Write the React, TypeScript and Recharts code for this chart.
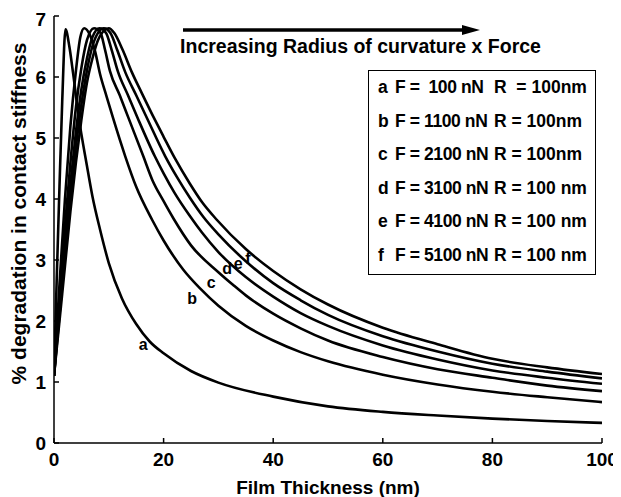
import { Line, LineChart, ReferenceDot, XAxis, YAxis } from 'recharts';

const xTicks = [0, 20, 40, 60, 80, 100];
const yTicks = [0, 1, 2, 3, 4, 5, 6, 7];

// [film thickness nm, % degradation]
const curveA = [
  [0, 1.1], [0.5, 2.7], [1, 4.2], [1.5, 5.6], [2.1, 6.78], [2.8, 6.5], [3.5, 6.05], [4.5, 5.35],
  [6, 4.55], [7, 4.05], [8.4, 3.5], [10, 2.95], [12.4, 2.37], [15, 1.95], [17.5, 1.66], [20, 1.47],
  [25, 1.18], [30, 0.99], [40, 0.76], [50, 0.6], [60, 0.51], [70, 0.45], [80, 0.4], [90, 0.36], [100, 0.33],
];
const curveB = [
  [0, 1.1], [1, 2.6], [2, 4.0], [3, 5.2], [4, 6.1], [4.8, 6.65], [5.5, 6.8], [6.5, 6.7], [7.5, 6.42],
  [8.4, 6.05], [9.6, 5.68], [10.8, 5.32], [13, 4.7], [15, 4.2], [17.9, 3.66], [20, 3.32], [23.6, 2.84],
  [26.7, 2.53], [30, 2.25], [35, 1.92], [40, 1.68], [45, 1.49], [50, 1.34], [60, 1.12], [70, 0.96],
  [80, 0.84], [90, 0.75], [100, 0.67],
];
const curveC = [
  [0, 1.1], [1, 2.35], [2, 3.55], [3, 4.6], [4, 5.5], [5, 6.15], [6, 6.6], [7.3, 6.8], [8.5, 6.72],
  [9.3, 6.45], [10.2, 6.1], [12, 5.7], [13.5, 5.35], [16.3, 4.7], [18, 4.3], [19.9, 3.98], [21.8, 3.68],
  [25, 3.24], [30, 2.8], [32.7, 2.59], [35, 2.42], [40, 2.12], [45, 1.88], [50, 1.68], [60, 1.41],
  [70, 1.21], [80, 1.07], [90, 0.94], [100, 0.85],
];
const curveD = [
  [0, 1.1], [1, 2.2], [2, 3.3], [3, 4.25], [4, 5.1], [5, 5.8], [6, 6.3], [7, 6.65], [8.3, 6.8],
  [9.5, 6.72], [10.5, 6.45], [11.7, 6.08], [13.5, 5.7], [15.3, 5.32], [18.4, 4.7], [20, 4.42], [22, 4.1],
  [24.8, 3.72], [27, 3.45], [30, 3.13], [35, 2.72], [40, 2.4], [45, 2.13], [50, 1.92], [60, 1.6],
  [70, 1.37], [80, 1.19], [90, 1.07], [100, 0.97],
];
const curveE = [
  [0, 1.1], [1, 2.1], [2, 3.1], [3, 4.0], [4, 4.85], [5, 5.55], [6, 6.1], [7, 6.5], [8, 6.72], [9.1, 6.8],
  [10.3, 6.72], [11.5, 6.45], [13, 6.08], [15, 5.7], [17, 5.32], [20.3, 4.7], [22.5, 4.35], [24.8, 4.02],
  [27.3, 3.7], [30, 3.42], [35, 2.98], [40, 2.62], [45, 2.34], [50, 2.1], [60, 1.75], [70, 1.5],
  [80, 1.3], [90, 1.17], [100, 1.06],
];
const curveF = [
  [0, 1.1], [1, 2.0], [2, 2.9], [3, 3.8], [4, 4.6], [5, 5.3], [6, 5.9], [7, 6.3], [8, 6.6], [9, 6.75], [10, 6.8],
  [11, 6.72], [12.5, 6.45], [14.2, 6.08], [16, 5.74], [18.4, 5.3], [20, 5.02], [22.1, 4.66], [24.8, 4.25],
  [27, 3.95], [29.7, 3.66], [35, 3.18], [40, 2.82], [45, 2.52], [50, 2.27], [60, 1.89], [70, 1.62],
  [80, 1.38], [90, 1.24], [100, 1.13],
];

const curves = [curveA, curveB, curveC, curveD, curveE, curveF];
const letters = ['a', 'b', 'c', 'd', 'e', 'f'];
const forces = ['F =  100 nN', 'F = 1100 nN', 'F = 2100 nN', 'F = 3100 nN', 'F = 4100 nN', 'F = 5100 nN'];
const radii = ['R  = 100nm', 'R = 100nm', 'R = 100nm', 'R = 100 nm', 'R = 100 nm', 'R = 100 nm'];
// where the a..f tags sit on the plot
const tagX = [16.3, 25.2, 28.7, 31.6, 33.6, 35.4];
const tagY = [1.61, 2.38, 2.64, 2.87, 2.95, 3.03];

const font = '"Liberation Sans", Arial, sans-serif';
const tickStyle = { fontSize: 19, fontWeight: 700, fill: '#000', fontFamily: font };

const YTitle = ({ viewBox }: any) => {
  const cx = viewBox.x + 10;
  const cy = viewBox.y + viewBox.height / 2 - 16;
  return (
    <text x={cx} y={cy} transform={`rotate(-90, ${cx}, ${cy})`} textAnchor="middle" dominantBaseline="central"
      style={{ fontSize: 21, fontWeight: 700, fontFamily: font }} fill="#000">
      % degradation in contact stiffness
    </text>
  );
};

const XTitle = ({ viewBox }: any) => {
  const cx = viewBox.x + viewBox.width / 2;
  const cy = viewBox.y + 44;
  return (
    <text x={cx} y={cy} textAnchor="middle" dominantBaseline="central"
      style={{ fontSize: 19, fontWeight: 700, fontFamily: font }} fill="#000">
      Film Thickness (nm)
    </text>
  );
};

export default function App() {
  return (
    <div style={{ position: 'relative', width: 613, height: 489, fontFamily: font }}>
      <LineChart width={613} height={489} margin={{ top: 8, right: 19, bottom: 0, left: 0 }}>
        <XAxis dataKey="x" type="number" domain={[0, 100]} ticks={xTicks} allowDataOverflow height={54}
          tick={tickStyle} tickSize={-5} tickMargin={15} stroke="#000" strokeWidth={1.5}
          label={<XTitle />} />
        <XAxis xAxisId="top" orientation="top" type="number" domain={[0, 100]} ticks={xTicks} allowDataOverflow
          height={0} tick={false} tickSize={-5} stroke="#000" strokeWidth={1.5} />
        <YAxis type="number" domain={[0, 7]} ticks={yTicks} allowDataOverflow width={46}
          tick={tickStyle} tickSize={-5} tickMargin={13} stroke="#000" strokeWidth={1.5}
          label={<YTitle />} />
        <YAxis yAxisId="right" orientation="right" type="number" domain={[0, 7]} ticks={yTicks} allowDataOverflow
          width={0} tick={false} tickSize={-5} stroke="#000" strokeWidth={1.5} />
        {curves.map((c, i) => (
          <Line key={letters[i]} data={c.map(([x, y]) => ({ x, y }))} dataKey="y" type="monotone"
            stroke="#000" strokeWidth={2.6} dot={false} isAnimationActive={false} />
        ))}
        {letters.map((l, i) => (
          <ReferenceDot key={l} x={tagX[i]} y={tagY[i]} r={0} fill="none" stroke="none"
            label={{ value: l, position: 'center', style: { fontSize: 16, fontWeight: 700, fill: '#000', fontFamily: font } }} />
        ))}
      </LineChart>

      <svg style={{ position: 'absolute', left: 0, top: 0, pointerEvents: 'none' }} width={613} height={489}>
        <line x1={175} y1={22} x2={456} y2={22} stroke="#000" strokeWidth={3.5} />
        <polygon points="472,22 454,17 454,27" fill="#000" />
      </svg>
      <div style={{ position: 'absolute', left: 168, top: 27, width: 369, textAlign: 'center', fontSize: 19.5,
        fontWeight: 700, whiteSpace: 'nowrap' }}>
        Increasing Radius of curvature x Force
      </div>

      <div style={{ position: 'absolute', left: 360, top: 62, width: 226, height: 203, border: '1.5px solid #000',
        background: '#fff', fontSize: 17.5, fontWeight: 700 }}>
        {letters.map((l, i) => (
          <div key={l} style={{ position: 'absolute', top: 6 + i * 33.5, left: 0, width: '100%', height: 22, whiteSpace: 'pre' }}>
            <span style={{ position: 'absolute', left: 9 }}>{l}</span>
            <span style={{ position: 'absolute', left: 26, letterSpacing: -0.4 }}>{forces[i]}</span>
            <span style={{ position: 'absolute', left: 125 }}>{radii[i]}</span>
          </div>
        ))}
      </div>
    </div>
  );
}
